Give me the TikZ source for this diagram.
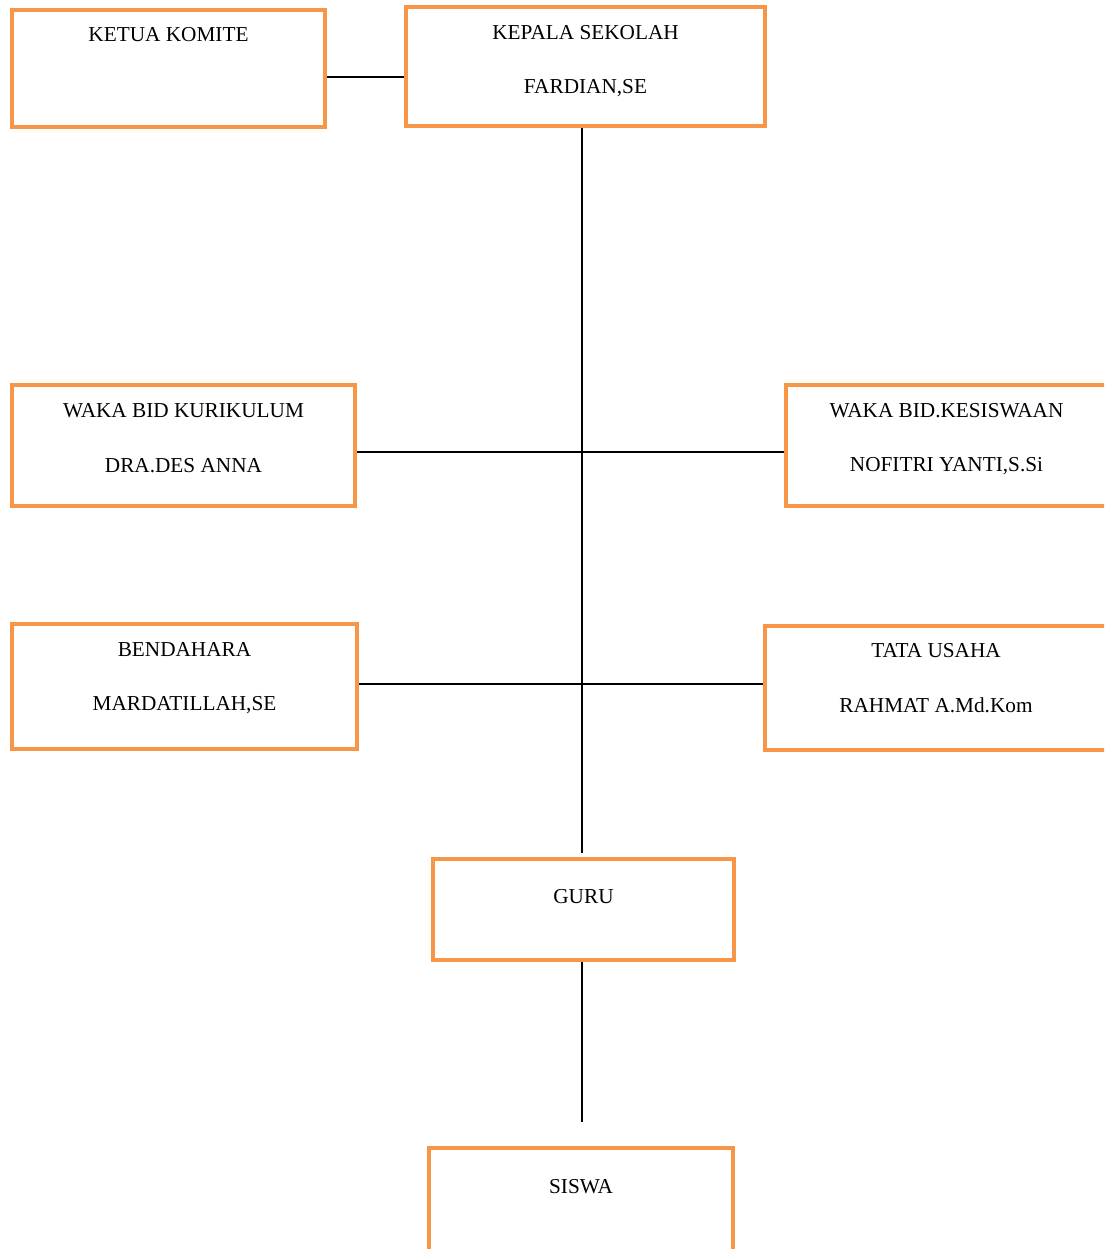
\documentclass[tikz,border=0pt]{standalone}
\usepackage{fontspec}
\setmainfont{Liberation Serif}
\usetikzlibrary{positioning}
\definecolor{boxorange}{RGB}{247,150,70}
\newcommand{\pxu}{0.5644pt}
\tikzset{
    orgbox/.style 2 args={draw=boxorange, line width=4.5*\pxu, rectangle, inner sep=0pt,
        minimum width=#1*\pxu, minimum height=#2*\pxu},
    orgtext/.style={font=\fontsize{12}{14}\selectfont, inner sep=0pt, anchor=center},
    conn/.style={draw=black, line width=2*\pxu}
}
\begin{document}
\begin{tikzpicture}[x=\pxu, y=-\pxu]
    \useasboundingbox (0,0) rectangle (1104,1249);
    \clip (0,0) rectangle (1104,1249);
    % boxes
    \node[orgbox={313}{117}] (komite) at (168.5,68.5) {};
    \node[orgbox={359}{119}] (kepala) at (585.5,66.5) {};
    \node[orgbox={343}{121}] (kurikulum) at (183.5,445.5) {};
    \node[orgbox={321}{121}] (kesiswaan) at (946.5,445.5) {};
    \node[orgbox={345}{125}] (bendahara) at (184.5,686.5) {};
    \node[orgbox={342}{124}] (tatausaha) at (936,688) {};
    \node[orgbox={301}{101}] (guru) at (583.5,909.5) {};
    \node[orgbox={304}{104}] (siswa) at (581,1200) {};
    % texts
    \node[orgtext] (tkomite) at ([yshift=-27*\pxu]komite.north) {KETUA KOMITE};
    \node[orgtext] (tkepala) at ([yshift=-28*\pxu]kepala.north) {KEPALA SEKOLAH};
    \node[orgtext] (nkepala) at ([yshift=-83*\pxu]kepala.north) {FARDIAN,SE};
    \node[orgtext] (tkurikulum) at ([yshift=-28*\pxu]kurikulum.north) {WAKA BID KURIKULUM};
    \node[orgtext] (nkurikulum) at ([yshift=-83*\pxu]kurikulum.north) {DRA.DES ANNA};
    \node[orgtext] (tkesiswaan) at ([yshift=-28*\pxu]kesiswaan.north) {WAKA BID.KESISWAAN};
    \node[orgtext] (nkesiswaan) at ([yshift=-83*\pxu]kesiswaan.north) {NOFITRI YANTI,S.Si};
    \node[orgtext] (tbendahara) at ([yshift=-28*\pxu]bendahara.north) {BENDAHARA};
    \node[orgtext] (nbendahara) at ([yshift=-83*\pxu]bendahara.north) {MARDATILLAH,SE};
    \node[orgtext] (ttatausaha) at ([yshift=-27*\pxu]tatausaha.north) {TATA USAHA};
    \node[orgtext] (ntatausaha) at ([yshift=-82*\pxu]tatausaha.north) {RAHMAT A.Md.Kom};
    \node[orgtext] (tguru) at ([yshift=-40*\pxu]guru.north) {GURU};
    \node[orgtext] (tsiswa) at ([yshift=-41*\pxu]siswa.north) {SISWA};
    % connectors
    \coordinate (spineend) at (582,853);
    \coordinate (rowa) at (582,452);
    \coordinate (rowb) at (582,684);
    \coordinate (siswatop) at (582,1122);
    \draw[conn] (komite.east |- 0,77) -- (kepala.west |- 0,77);
    \draw[conn] (kepala.south -| spineend) -- (spineend);
    \draw[conn] (kurikulum.east |- rowa) -- (kesiswaan.west |- rowa);
    \draw[conn] (bendahara.east |- rowb) -- (tatausaha.west |- rowb);
    \draw[conn] (guru.south -| siswatop) -- (siswatop);
\end{tikzpicture}
\end{document}
